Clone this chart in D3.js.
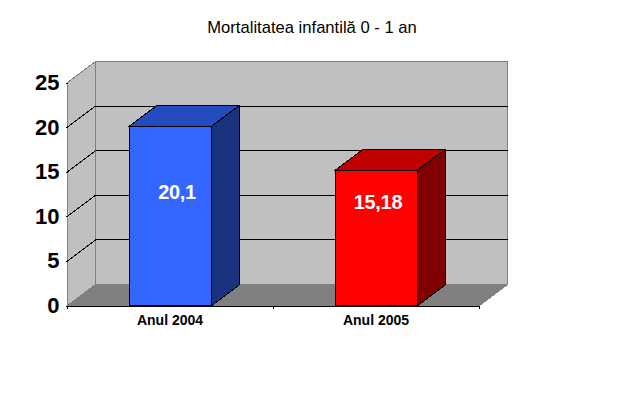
<!DOCTYPE html>
<html><head><meta charset="utf-8">
<script src="https://cdn.jsdelivr.net/npm/d3@7/dist/d3.min.js"></script>
<style>
html,body{margin:0;padding:0;background:#fff}
svg{display:block}
text{font-family:"Liberation Sans",Arial,sans-serif}
</style></head><body>
<svg id="c" width="625" height="410"></svg>
<script>
const titleText = "Mortalitatea infantilă 0 - 1 an";
const categories = ["Anul 2004", "Anul 2005"];
const values = [20.1, 15.18];
const valueLabels = ["20,1", "15,18"];
const yTicks = [0, 5, 10, 15, 20, 25];
const frontColors = ["#3366FF", "#FF0000"];
const topColors = ["#254CBF", "#BF0000"];
const sideColors = ["#19337F", "#7F0000"];

const svg = d3.select("#c");
const dx = 28, dy = -21;
const x = d3.scaleBand().domain(categories).range([67.5, 479.5]).paddingInner(0.6).paddingOuter(0.3);
const y = d3.scaleLinear().domain([0, 25]).range([305.5, 82.5]);
const [x0, x1] = x.range();
const poly = p => p.map(d => d.join(",")).join(" ");

const g = svg.append("g").attr("shape-rendering", "crispEdges");

g.append("polygon").attr("points", poly([[x0+dx,y(25)+dy],[x1+dx,y(25)+dy],[x1+dx,y(0)+dy],[x0+dx,y(0)+dy]]))
  .attr("fill", "#C0C0C0").attr("stroke", "#808080").attr("stroke-width", 1);
g.append("polygon").attr("points", poly([[x0,y(25)],[x0+dx,y(25)+dy],[x0+dx,y(0)+dy],[x0,y(0)]]))
  .attr("fill", "#C0C0C0").attr("stroke", "#808080").attr("stroke-width", 1);
g.append("polygon").attr("points", poly([[x0,y(0)],[x0+dx,y(0)+dy],[x1+dx,y(0)+dy],[x1,y(0)]]))
  .attr("fill", "#808080").attr("stroke", "#808080").attr("stroke-width", 1);

yTicks.filter(t => t > 0 && t < 25).forEach(t => {
  g.append("path").attr("fill", "none").attr("stroke", "#000").attr("stroke-width", 1)
    .attr("d", d3.line()([[x0, y(t)], [x0+dx, y(t)+dy], [x1+dx, y(t)+dy]]));
});

const bars = g.selectAll(".bar").data(categories).join("g").attr("class", "bar");
bars.each(function(c, i) {
  const b = d3.select(this), l = x(c), r = l + x.bandwidth(), t = y(values[i]), z = y(0);
  b.append("polygon").attr("points", poly([[l,t],[l+dx,t+dy],[r+dx,t+dy],[r,t]]))
    .attr("fill", topColors[i]).attr("stroke", "#000");
  b.append("polygon").attr("points", poly([[r,t],[r+dx,t+dy],[r+dx,z+dy],[r,z]]))
    .attr("fill", sideColors[i]).attr("stroke", "#000");
  b.append("polygon").attr("points", poly([[l,t],[r,t],[r,z],[l,z]]))
    .attr("fill", frontColors[i]).attr("stroke", "#000");
});

const yAxis = d3.axisLeft(y).tickValues(yTicks).tickSize(2).tickPadding(6);
const ya = svg.append("g").attr("transform", `translate(${x0},0)`).call(yAxis);
ya.selectAll("path,line").attr("stroke", "#000").attr("shape-rendering", "crispEdges");
ya.select(".domain").attr("stroke", "none");
ya.selectAll("text").attr("font-size", 22).attr("font-weight", "bold").attr("fill", "#000")
  .style("font-family", '"Liberation Sans",Arial,sans-serif');

const boundaries = [x0, (x0+x1)/2, x1];
const xa = svg.append("g").attr("transform", `translate(0,${y(0)})`);
xa.call(d3.axisBottom(x).tickSize(0).tickPadding(10));
xa.select(".domain").attr("stroke", "#000").attr("shape-rendering", "crispEdges");
xa.selectAll("text").attr("font-size", 14).attr("font-weight", "bold").attr("fill", "#000")
  .attr("dx", -0.5)
  .style("font-family", '"Liberation Sans",Arial,sans-serif');
xa.selectAll(".bd").data(boundaries).join("line").attr("class", "bd")
  .attr("x1", d => d).attr("x2", d => d).attr("y1", 0).attr("y2", 3)
  .attr("stroke", "#000").attr("shape-rendering", "crispEdges");

svg.selectAll(".val").data(categories).join("text").attr("class", "val")
  .attr("x", (c, i) => x(c) + x.bandwidth()/2 + [6.5, 1.5][i])
  .attr("y", (c, i) => [199, 208.5][i])
  .attr("text-anchor", "middle").attr("font-size", 20).attr("letter-spacing", -0.3).attr("font-weight", "bold")
  .attr("fill", "#fff").text((c, i) => valueLabels[i]);

svg.append("text").attr("x", 312).attr("y", 33).attr("text-anchor", "middle")
  .attr("font-size", 16.6).attr("fill", "#000").text(titleText);
</script>
</body></html>
